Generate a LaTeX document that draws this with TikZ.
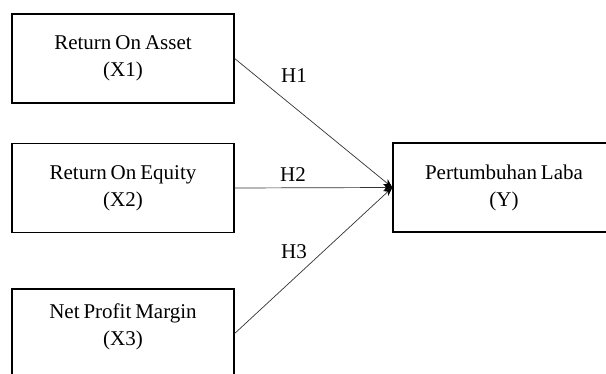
\documentclass[tikz,border=0pt]{standalone}
\usepackage{fontspec}
\setmainfont[WordSpace=0.75]{Liberation Serif}
\usetikzlibrary{arrows.meta}

\begin{document}
\begin{tikzpicture}[x=1pt,y=-1pt,
    varbox/.style={draw=black, line width=1.3pt, minimum width=222pt, minimum height=89pt, align=center, inner sep=0pt, font=\fontsize{21}{27}\selectfont},
    hyp/.style={inner sep=0pt, font=\fontsize{21}{24}\selectfont},
    link/.style={draw=black!80, line width=0.7pt, -{Stealth[length=9pt,width=7pt,black]}}]
         \useasboundingbox (0,0) rectangle (606,374);
         \node[varbox] (x1) at (123,58.5) {Return On Asset\\(X1)};
         \node[varbox] (x2) at (123,188) {Return On Equity\\(X2)};
         \node[varbox, text depth=18pt] (x3) at (123,333.5) {Net Profit Margin\\(X3)};
         \node[varbox] (y) at (504,187.5) {Pertumbuhan Laba\\(Y)};

         \draw[link] (x1.east) -- (y.west);
         \draw[link] (x2.east) -- (y.west);
         \draw[link] (x3.east) -- (y.west);

         \node[hyp] (h1) at (294,75.5) {H1};
         \node[hyp] (h2) at (293,175) {H2};
         \node[hyp] (h3) at (294,251.5) {H3};
\end{tikzpicture}
\end{document}
